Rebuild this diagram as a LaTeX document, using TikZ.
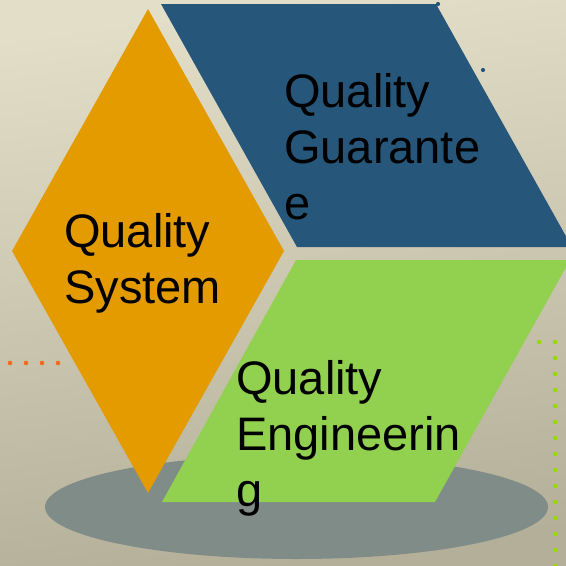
\documentclass[tikz,border=0pt]{standalone}
\usepackage{fontspec}
\setmainfont{Liberation Sans}
\definecolor{bgtop}{HTML}{E3DEC8}
\definecolor{bgbot}{HTML}{B4AF99}
\definecolor{qorange}{HTML}{E39B00}
\definecolor{qblue}{HTML}{26567A}
\definecolor{qgreen}{HTML}{92D050}
\definecolor{qgray}{HTML}{7F8C87}
\definecolor{dotorange}{HTML}{F26A1B}
\definecolor{dotgreen}{HTML}{9AD800}
\tikzset{
  lbl/.style={anchor=base west, inner sep=0pt, align=left, text=black,
    font=\fontsize{47}{56}\selectfont},
  odot/.style={fill=dotorange},
  gdot/.style={fill=dotgreen},
  bdot/.style={fill=qblue}
}
\begin{document}
\begin{tikzpicture}[x=1pt,y=-1pt]
\useasboundingbox (0,0) rectangle (566,566);
\shade[top color=bgtop, bottom color=bgbot, shading angle=8] (0,0) rectangle (566,566);
% ellipse
\fill[qgray] (296.5,507) ellipse [x radius=251.5, y radius=52];
% shapes
\fill[qblue] (161,4) -- (436,4) -- (572,247) -- (297,247) -- cycle;
\fill[qgreen] (296,260) -- (570,260) -- (435,502) -- (162,502) -- cycle;
\fill[qorange] (148,9) -- (284,251) -- (148,493) -- (12,251) -- cycle;
% dots
\foreach \x in {10,26,42,58} \fill[odot] (\x,363) circle (2.3);
\foreach \y in {342,358,...,566} \fill[gdot] (555,\y) circle (2.3);
\fill[gdot] (539,342) circle (2.3);
\fill[bdot] (438,4) circle (2.1);
\fill[bdot] (483,70) circle (2.1);
% labels (anchored at the baseline of the last line)
\node[lbl] (qs) at (64,303) {Quality\\System};
\node[lbl] (qg) at (284,219) {Quality\\Guarante\\e};
\node[lbl] (qe) at (236,506) {Quality\\Engineerin\\g};
\end{tikzpicture}
\end{document}
